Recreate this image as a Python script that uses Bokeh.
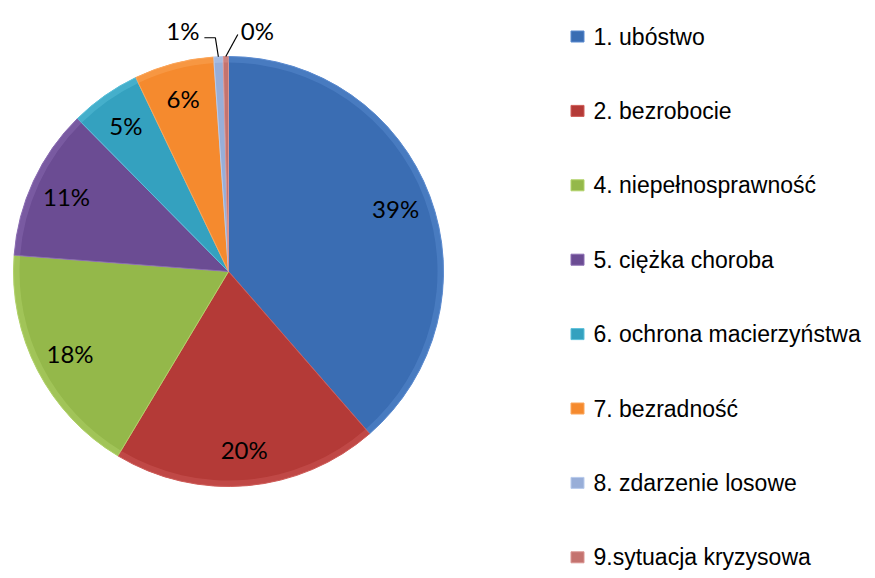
import numpy as np
from bokeh.plotting import figure
from bokeh.models import Range1d, ColumnDataSource
from bokeh.core.properties import value
from bokeh.embed import file_html
from bokeh.resources import INLINE

# ---- data ----
categories = ["1. ubóstwo", "2. bezrobocie", "4. niepełnosprawność", "5. ciężka choroba",
              "6. ochrona macierzyństwa", "7. bezradność", "8. zdarzenie losowe",
              "9.sytuacja kryzysowa"]
shares = [38.6, 20.0, 17.6, 11.4, 5.3, 6.0, 0.7, 0.4]
colors = ["#3A6DB3", "#B43A37", "#94B84A", "#6B4C93", "#34A1BF", "#F58A2E", "#98AED8", "#C4736F"]
rims = ["#5B8BD0", "#CF5C58", "#B2D36A", "#8B6DB3", "#5CC0DA", "#FBA65A", "#B8CBEC", "#DA9592"]

W, H = 867, 570
p = figure(width=W, height=H, output_backend="svg", toolbar_location=None,
           x_range=Range1d(0, W), y_range=Range1d(0, H), min_border=0)
p.axis.visible = False
p.grid.visible = False
p.outline_line_color = None
p.background_fill_color = "white"
p.border_fill_color = "white"

cx, cy, r = 228, 570 - 271, 215
vals = np.array(shares, dtype=float)
frac = vals / vals.sum()
cum_end = np.cumsum(frac)
cum_start = cum_end - frac
start = np.pi / 2 - cum_start * 2 * np.pi
end = np.pi / 2 - cum_end * 2 * np.pi
mid = (start + end) / 2
labels = [f"{int(round(v))}%" for v in vals]

src = ColumnDataSource(dict(start=start, end=end, color=colors, rim=rims))
p.wedge(x=cx, y=cy, radius=r, start_angle="start", end_angle="end", direction="clock",
        fill_color="color", line_color="rim", line_width=1, source=src)
p.annular_wedge(x=cx, y=cy, inner_radius=r - 6, outer_radius=r, start_angle="start",
                end_angle="end", direction="clock", fill_color="rim", fill_alpha=0.45,
                line_color=None, source=src)

# inside labels
big = [i for i in range(len(vals)) if frac[i] > 0.03]
lr = 0.83 * r
p.text(x=[cx + lr * np.cos(mid[i]) for i in big], y=[cy + lr * np.sin(mid[i]) for i in big],
       text=[labels[i] for i in big], text_font=value("Lato"), text_font_size="24px",
       text_align="center", text_baseline="middle", text_color="black")

# outside labels with leaders for small slices
small = [i for i in range(len(vals)) if frac[i] <= 0.03]
for k, i in enumerate(small):
    ex, ey = cx + r * np.cos(mid[i]), cy + r * np.sin(mid[i])
    if k == 0:
        p.line(x=[ex - 14, ex - 3, ex], y=[ey + 19, ey + 19, ey], line_color="black", line_width=1.2)
        p.text(x=[ex - 19], y=[ey + 26], text=[labels[i]], text_font=value("Lato"),
               text_font_size="24px", text_align="right", text_baseline="middle")
    else:
        p.line(x=[ex, ex + 12], y=[ey, ey + 22], line_color="black", line_width=1.2)
        p.text(x=[ex + 15], y=[ey + 26], text=[labels[i]], text_font=value("Lato"),
               text_font_size="24px", text_align="left", text_baseline="middle")

# legend
n = len(categories)
ly = [570 - (36 + 74.4 * k) for k in range(n)]
p.rect(x=[577] * n, y=ly, width=13, height=11, fill_color=colors, line_color=rims, line_width=1)
p.text(x=[593] * n, y=ly, text=categories, text_font=value("Liberation Sans"),
       text_font_size="23px", text_baseline="middle", text_align="left", text_color="black")

open("out.html", "w").write(file_html(p, INLINE))
